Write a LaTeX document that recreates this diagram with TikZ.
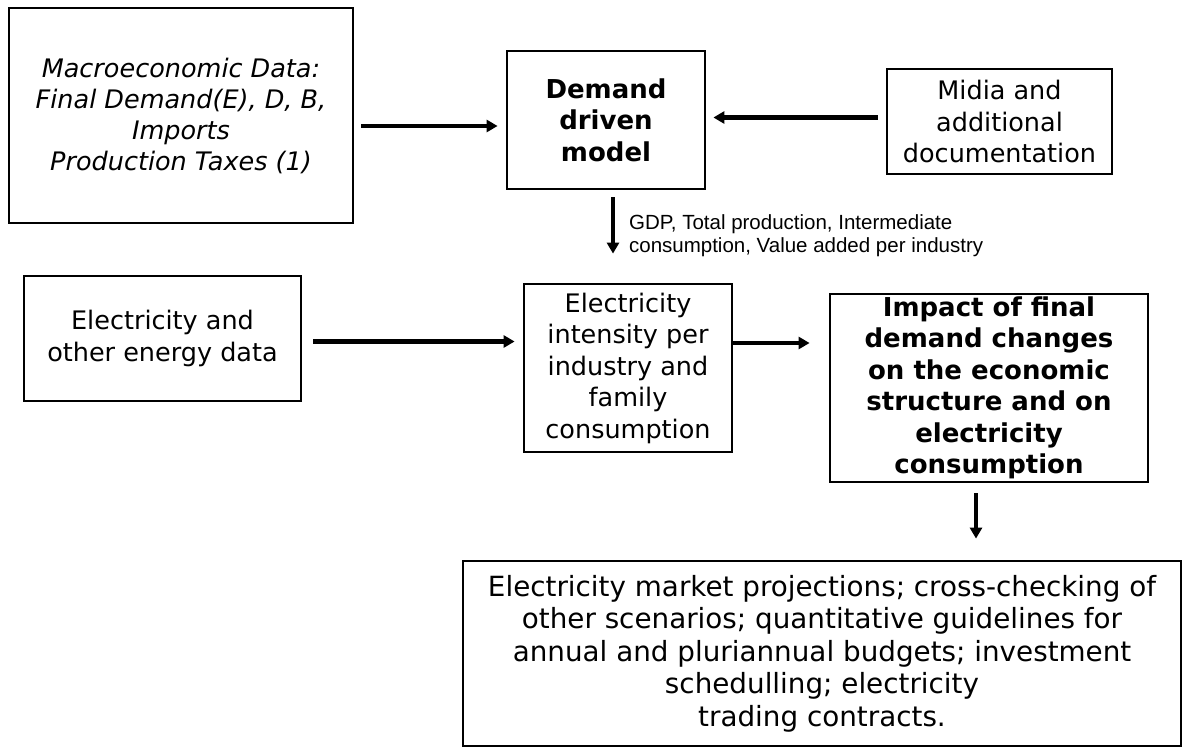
\documentclass[tikz,border=0pt]{standalone}
\usepackage{fontspec}
\setmainfont{DejaVu Sans}
\newfontfamily\lblfont{Liberation Sans}
\usetikzlibrary{arrows.meta}

\begin{document}
\begin{tikzpicture}[%
    x=1pt, y=-1pt,                          % one unit per pixel, y goes down
    >={Triangle[length=11pt,width=12pt]},   % Solid arrow heads
    every node/.style={inner sep=0pt},
    ]
% -------------------------------------------------
% Box and text styles
\tikzset{
  box/.style={draw, line width=2.8pt, align=center},
  plaintxt/.style={font=\fontsize{25.5}{31.5}\selectfont},
  italtxt/.style={font=\itshape\fontsize{25.5}{31}\selectfont},
  boldtxt/.style={font=\bfseries\fontsize{26}{31.5}\selectfont},
  bigtxt/.style={font=\fontsize{27.8}{32.5}\selectfont},
  lbl/.style={font=\lblfont\fontsize{20.5}{23}\selectfont, align=left},
  % Connector line style
  norm/.style={->, line width=4.2pt},
}
\useasboundingbox (0,0) rectangle (1184,747);
% -------------------------------------------------
% Start by placing the nodes
\node [box, italtxt, minimum width=344pt, minimum height=215pt] (a) at (181,115.5)
  {Macroeconomic Data:\\Final Demand(E), D, B,\\Imports\\Production Taxes (1)};
\node [box, boldtxt, minimum width=198pt, minimum height=138pt] (b) at (606,120)
  {Demand\\driven\\model};
\node [box, plaintxt, minimum width=225pt, minimum height=105pt] (c) at (999.5,121.5)
  {Midia and\\additional\\documentation};
\node [box, plaintxt, minimum width=277pt, minimum height=125pt] (d) at (162.5,338.5)
  {Electricity and\\other energy data};
\node [box, plaintxt, minimum width=208pt, minimum height=168pt] (e) at (628,368)
  {Electricity\\intensity per\\industry and\\family\\consumption};
\node [box, boldtxt, minimum width=318pt, minimum height=188pt] (f) at (989,388)
  {Impact of final\\demand changes\\on the economic\\structure and on\\electricity\\consumption};
\node [box, bigtxt, minimum width=718pt, minimum height=185pt] (g) at (822,653.5)
  {Electricity market projections; cross-checking of\\other scenarios; quantitative guidelines for\\annual and pluriannual budgets; investment\\schedulling; electricity\\trading contracts.};

% -------------------------------------------------
% Then the connectors
\draw [norm] ([xshift=7pt,yshift=-10.5pt]a.east) -- ([xshift=-8pt,yshift=-6pt]b.west);
\draw [norm] ([xshift=-8pt,yshift=4pt]c.west) -- ([xshift=7pt,yshift=2.5pt]b.east);
\draw [norm] ([xshift=7pt,yshift=-7pt]b.south) -- ([xshift=-15pt,yshift=29pt]e.north)
  node [lbl, midway, right=14pt, yshift=-10.5pt] (gdp)
  {GDP, Total production, Intermediate\\consumption, Value added per industry};
\draw [norm] ([xshift=11pt,yshift=-3pt]d.east) -- ([xshift=-8pt,yshift=26.5pt]e.west);
\draw [norm] ([yshift=25pt]e.east) -- ([xshift=-19pt,yshift=45pt]f.west);
\draw [norm] ([xshift=-13pt,yshift=-10pt]f.south) -- ([xshift=154pt,yshift=21pt]g.north);

% -------------------------------------------------
\end{tikzpicture}
\end{document}
